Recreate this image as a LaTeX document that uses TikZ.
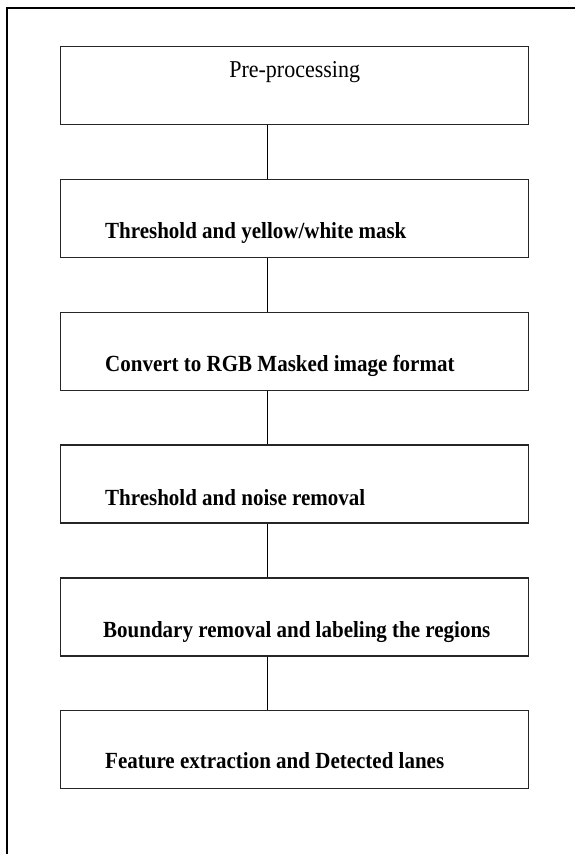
\documentclass[tikz,border=0pt]{standalone}
\usepackage{fontspec}
\usepackage{graphicx}
\setmainfont{Liberation Serif}
\begin{document}
\begin{tikzpicture}[x=1pt,y=-1pt,
  stagebox/.style={draw=black!85, line width=1.3pt, rectangle, minimum width=468pt, minimum height=78pt, inner sep=0pt, anchor=north west},
  stagetext/.style={anchor=base west, inner sep=0pt, font=\fontsize{21}{24}\selectfont\bfseries},
  link/.style={draw=black, line width=0.9pt},
  frame/.style={draw=black, line width=2pt}]
\useasboundingbox (0,0) rectangle (574,854);
\fill[white] (0,0) rectangle (574,854);
\draw[frame] (7,856) -- (7,8) -- (576,8);
\coordinate (cx) at (267,0);
\node[stagebox] (b1) at (60,46) {};
\node[stagebox] (b2) at (60,178.8) {};
\node[stagebox] (b3) at (60,311.6) {};
\node[stagebox] (b4) at (60,444.4) {};
\node[stagebox] (b5) at (60,577.2) {};
\node[stagebox] (b6) at (60,710) {};
\node[anchor=base, inner sep=0pt, font=\fontsize{22}{24}\selectfont] (t1) at ([yshift=-31pt]b1.north) {\scalebox{1}[1.1]{Pre-processing}};
\node[stagetext] (t2) at ([xshift=45pt,yshift=-60pt]b2.north west) {\scalebox{1}[1.1]{Threshold and yellow/white mask}};
\node[stagetext] (t3) at ([xshift=45pt,yshift=-60pt]b3.north west) {\scalebox{1}[1.1]{Convert to RGB Masked image format}};
\node[stagetext] (t4) at ([xshift=45pt,yshift=-61pt]b4.north west) {\scalebox{1}[1.1]{Threshold and noise removal}};
\node[stagetext] (t5) at ([xshift=43pt,yshift=-60pt]b5.north west) {\scalebox{1}[1.1]{Boundary removal and labeling the regions}};
\node[stagetext] (t6) at ([xshift=45pt,yshift=-58pt]b6.north west) {\scalebox{1}[1.1]{Feature extraction and Detected lanes}};
\draw[link] (b1.south -| cx) -- (b2.north -| cx);
\draw[link] (b2.south -| cx) -- (b3.north -| cx);
\draw[link] (b3.south -| cx) -- (b4.north -| cx);
\draw[link] (b4.south -| cx) -- (b5.north -| cx);
\draw[link] (b5.south -| cx) -- (b6.north -| cx);
\end{tikzpicture}
\end{document}
